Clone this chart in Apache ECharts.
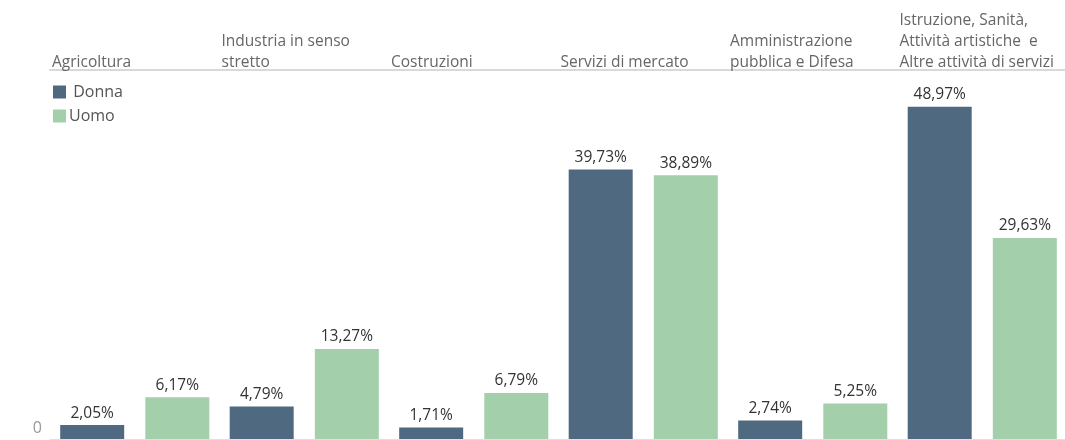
<!DOCTYPE html>
<html>
<head>
<meta charset="utf-8">
<script src="https://cdn.jsdelivr.net/npm/echarts@6/dist/echarts.min.js"></script>
<style>
  html, body { margin: 0; padding: 0; background: #fff; overflow: hidden; }
  #chart { width: 1065px; height: 440px; }
</style>
</head>
<body>
<div id="chart"></div>
<script>
// categorie (intestazioni dei pannelli)
const categories = [
  "Agricoltura",
  "Industria in senso\nstretto",
  "Costruzioni",
  "Servizi di mercato",
  "Amministrazione\npubblica e Difesa",
  "Istruzione, Sanità,\nAttività artistiche  e\nAltre attività di servizi"
];
const seriesNames = ["Donna", "Uomo"];
const donna = [2.05, 4.79, 1.71, 39.73, 2.74, 48.97];
const uomo = [6.17, 13.27, 6.79, 38.89, 5.25, 29.63];
const yTicks = [0];

const FONT = "'Open Sans', 'Noto Sans', sans-serif";
const fmt = (v) => v.toFixed(2).replace(".", ",") + "%";

const chart = echarts.init(document.getElementById("chart"));

const barLabel = {
  show: true,
  position: "top",
  distance: 4,
  color: "#333",
  fontSize: 15.5,
  fontFamily: FONT,
  formatter: (p) => fmt(p.value)
};

chart.setOption({
  animation: false,
  textStyle: { fontFamily: FONT },
  grid: { left: 50, width: 1017, top: 70, bottom: 1, outerBoundsMode: "none" },
  legend: {
    orient: "vertical",
    left: 48,
    top: 79,
    itemWidth: 13,
    itemHeight: 13,
    itemGap: 8,
    icon: "rect",
    data: seriesNames,
    formatter: (n) => (n === "Donna" ? " " + n : n),
    textStyle: { color: "#555", fontSize: 16, fontFamily: FONT, padding: [0, 0, 0, -2] }
  },
  xAxis: [
    {
      type: "category",
      data: categories,
      axisLine: { show: true, lineStyle: { color: "#e0e0e0" } },
      axisTick: { show: false },
      axisLabel: { show: false }
    },
    {
      // intestazioni allineate a sinistra sopra la linea
      type: "category",
      position: "top",
      boundaryGap: false,
      data: categories.concat([""]),
      axisLine: { show: true, lineStyle: { color: "#d9d9d9", width: 2 } },
      axisTick: { show: false },
      axisLabel: {
        interval: 0,
        align: "left",
        verticalAlign: "bottom",
        margin: -3,
        padding: [0, 0, 0, 2],
        color: "#666",
        fontSize: 15.5,
        lineHeight: 21,
        fontFamily: FONT
      }
    }
  ],
  yAxis: {
    type: "value",
    min: 0,
    max: 54.4,
    interval: 54.4,
    splitLine: { show: false },
    axisLine: { show: false },
    axisTick: { show: false },
    axisLabel: {
      margin: 8,
      verticalAlign: "bottom",
      padding: [0, 0, 3, 0],
      color: "#999",
      fontSize: 16,
      fontFamily: FONT,
      formatter: (v) => (yTicks.includes(v) ? String(v) : "")
    }
  },
  series: [
    {
      name: seriesNames[0],
      type: "bar",
      data: donna,
      barWidth: 64,
      barGap: "33%",
      itemStyle: { color: "#4f6a80" },
      label: barLabel
    },
    {
      name: seriesNames[1],
      type: "bar",
      data: uomo,
      barWidth: 64,
      itemStyle: { color: "#a3cfaa" },
      label: barLabel
    }
  ]
});
</script>
</body>
</html>
